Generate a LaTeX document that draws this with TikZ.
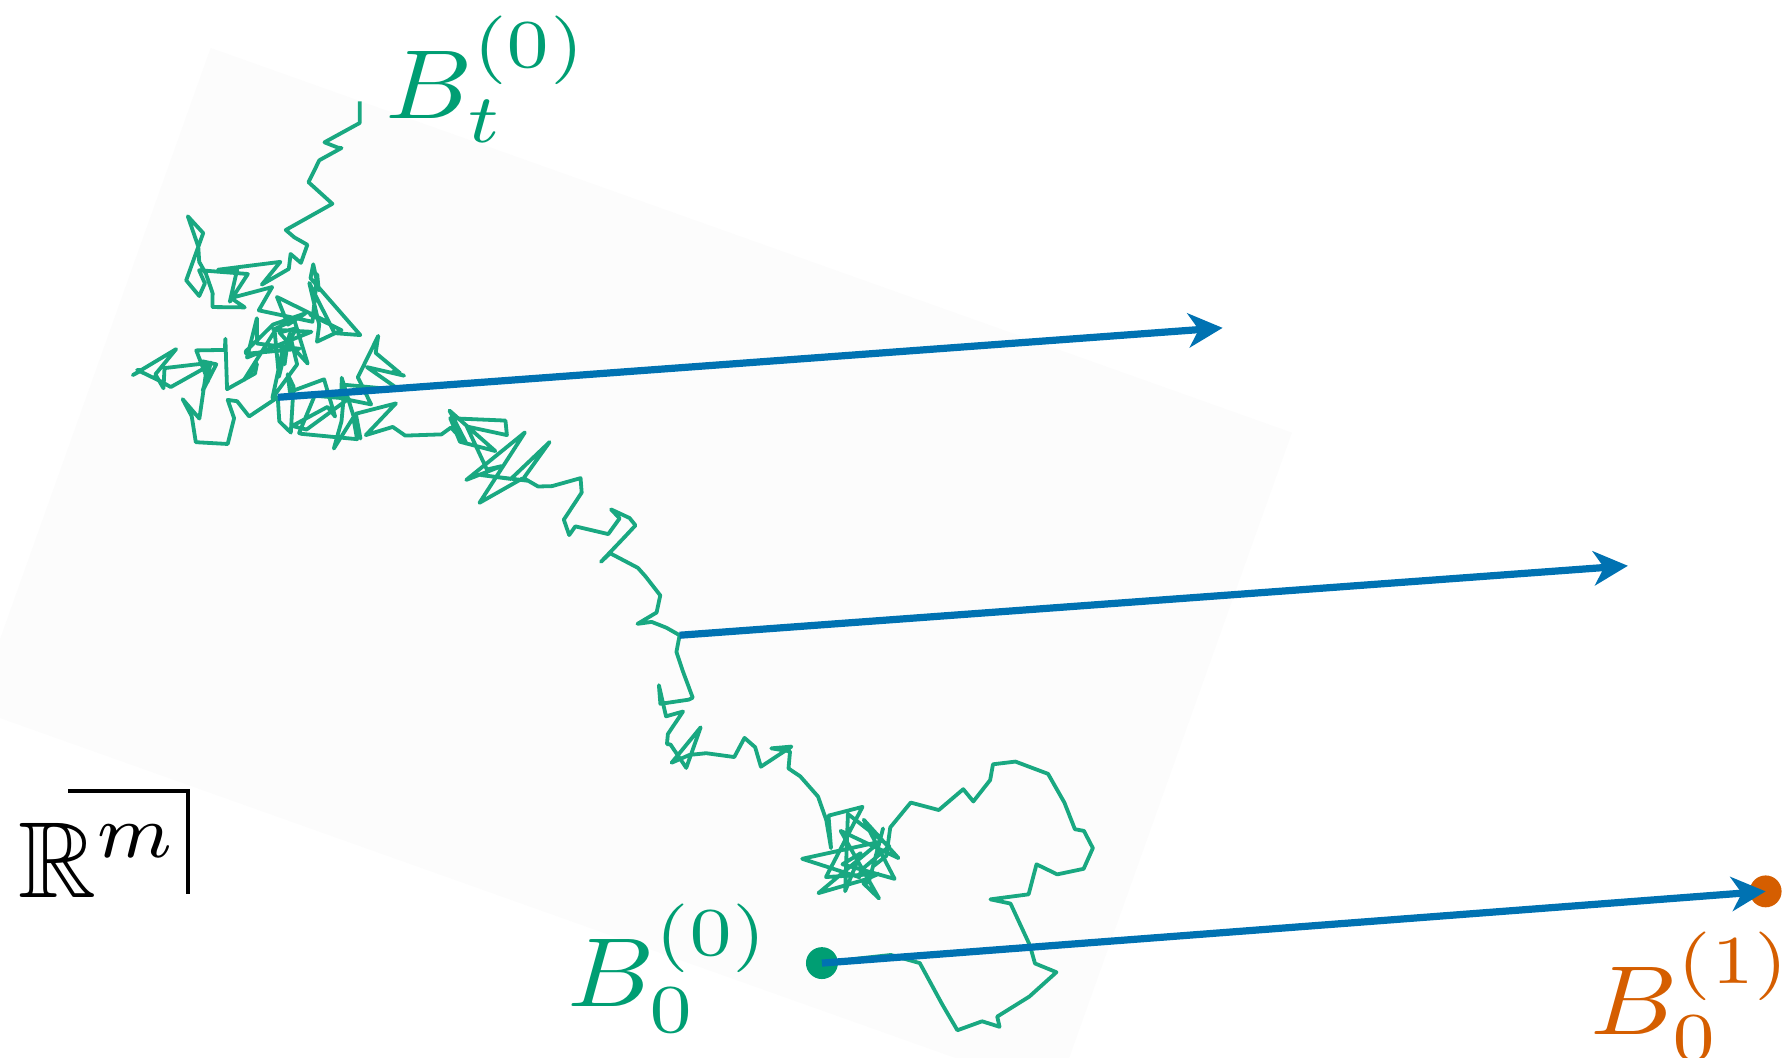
\documentclass[tikz,border=0pt]{standalone}
\usepackage{amsmath,amssymb}
\definecolor{bmgreen}{RGB}{0,158,115}
\definecolor{bmblue}{RGB}{0,114,178}
\definecolor{bmorange}{RGB}{213,94,0}
\usetikzlibrary{arrows.meta}

\begin{document}
\begin{tikzpicture}[x=0.01cm,y=-0.01cm,
    lbl/.style={inner sep=0pt,anchor=base west,xscale=2.7,yscale=2.45},
    pointdot/.style={circle,inner sep=0pt,minimum size=0.28cm},
    movearrow/.style={draw=bmblue,line width=1.8pt,
                      -{Stealth[length=3mm,width=3mm,inset=0.9mm]}},
    bpath/.style={draw=bmgreen!90!white,line width=0.95pt,line join=round}]
  \useasboundingbox (0,0) rectangle (1568,929);
  %% background sheet
  \fill[black!1.1] (185,42) -- (1135,380) -- (928,961) -- (-22,623) -- cycle;
  %% Brownian path from B_0 up to B_t
  \pgfmathsetseed{11}
  \draw[bpath] (722,846)
    \foreach \x/\y/\n/\a [remember=\x as \px (initially 722),
                          remember=\y as \py (initially 846)] in
      {808/846/3/14, 841/905/2/10, 876/893/3/14, 928/854/2/10,
       870/790/4/16, 960/745/5/18, 935/705/3/12, 892/669/2/8,
       855/704/3/12, 800/705/3/12, 767/761/3/12, 730/745/24/38,
       703/682/3/10, 694/660/2/6, 645/665/6/18, 590/670/3/12,
       600/625/6/25, 600/590/6/22, 597/558/2/6, 560/548/3/10,
       580/523/2/8, 536/486/3/10, 553/455/4/16, 500/470/5/14,
       510/420/3/10, 460/420/3/10, 410/390/18/32, 345/375/4/12,
       300/350/6/30, 330/310/4/25, 355/330/3/15, 300/370/4/25,
       244/349/18/30, 200/390/5/25, 150/340/6/30, 125/325/3/15,
       190/320/8/30, 250/320/16/30, 240/285/14/34, 300/290/6/30,
       280/255/8/30, 215/270/6/25, 175/230/4/20, 165/190/2/8,
       175/260/3/12, 230/250/8/30, 270/215/4/15, 251/202/2/5,
       292/179/1/0, 271/160/1/0, 300/130/2/8, 285/125/2/8,
       316/108/1/0, 316/89/1/0}
    {\foreach \k in {1,...,\n}
      {-- ({\px+(\x-\px)*\k/\n+\a*rand*(\k<\n)},
           {\py+(\y-\py)*\k/\n+\a*rand*(\k<\n)})}};
  %% points and shifts
  \coordinate (s1) at (244,349);
  \coordinate (e1) at (1074,288);
  \coordinate (s2) at (597,558);
  \coordinate (e2) at (1430,497);
  \node[pointdot,fill=bmgreen] (b0) at (722,846) {};
  \node[pointdot,fill=bmorange] (b1) at (1551,783) {};
  \draw[movearrow] (s1) -- (e1);
  \draw[movearrow] (s2) -- (e2);
  \draw[movearrow] (b0.center) -- (b1.center);
  %% labels
  \node[lbl,text=bmgreen] (bt) at (337,104) {$B_t^{(0)}$};
  \node[lbl,text=bmgreen] (b00) at (497,884) {$B_0^{(0)}$};
  \node[lbl,text=bmorange] (b01) at (1395,909) {$B_0^{(1)}$};
  \node[inner sep=0pt,anchor=base west,scale=2.7] (rm) at (14,788) {$\mathbb{R}^m$};
  \draw[line width=1pt] (60,695) -| (165,785);
\end{tikzpicture}
\end{document}
